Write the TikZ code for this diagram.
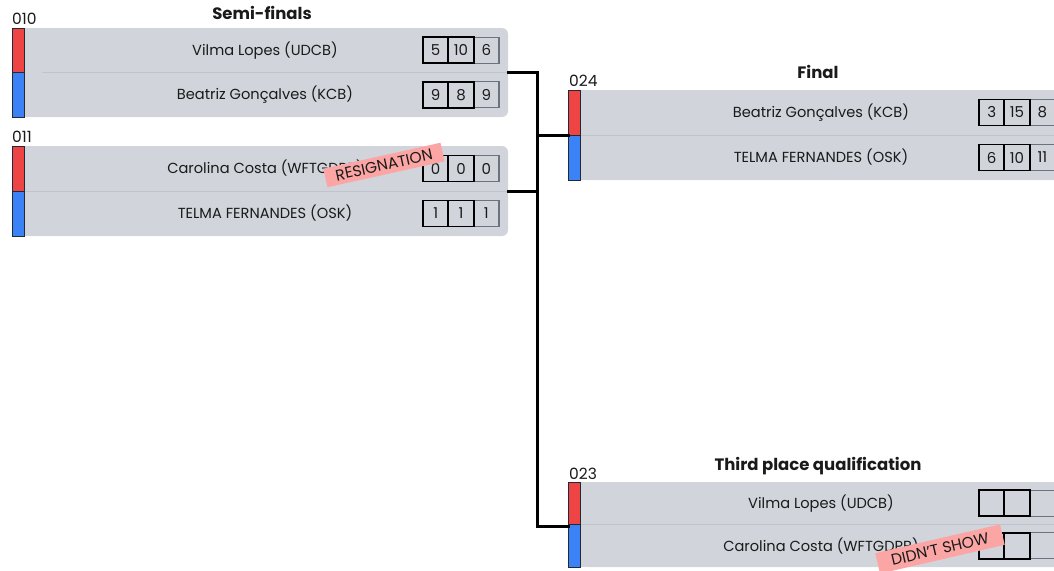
\documentclass[tikz,border=0pt]{standalone}
\usepackage{fontspec}
\setmainfont{Poppins}
\definecolor{rowbg}{HTML}{D1D5DB}
\definecolor{redc}{HTML}{EF4444}
\definecolor{bluec}{HTML}{3B82F6}
\definecolor{barline}{HTML}{1F2937}
\definecolor{divline}{HTML}{BFC3CA}
\definecolor{tagpink}{HTML}{FCA5A5}
\definecolor{txt}{HTML}{1A1A1A}
\definecolor{lastbox}{HTML}{6B7280}
\begin{document}
\begin{tikzpicture}[x=1pt,y=-1pt,
  graybox/.style={fill=rowbg, rounded corners=6pt, minimum width=484pt, inner sep=0pt, outer sep=0pt, anchor=north west},
  redbar/.style={fill=redc, draw=barline, line width=1pt, minimum width=12pt, inner sep=0pt, outer sep=0pt, anchor=north west},
  bluebar/.style={fill=bluec, draw=barline, line width=1pt, minimum width=12pt, inner sep=0pt, outer sep=0pt, anchor=north west},
  divider/.style={draw=divline, line width=0.8pt},
  pname/.style={font=\fontsize{14.6}{17}\selectfont, text=txt},
  title/.style={font=\fontsize{16.5}{19}\selectfont\bfseries, text=txt},
  mlabel/.style={font=\fontsize{15.5}{17}\selectfont, text=txt, inner sep=0pt, anchor=west},
  scorebox/.style={draw=black, line width=1.8pt, minimum width=25.3pt, minimum height=26pt, inner sep=0pt, font=\fontsize{15}{17}\selectfont, text=txt},
  lastscore/.style={scorebox, draw=lastbox, line width=1.3pt},
  tag/.style={fill=tagpink, text=txt, font=\fontsize{15.5}{17}\selectfont, inner sep=0pt, minimum height=19pt},
  conn/.style={draw=black, line width=3pt, line cap=rect}
]
\useasboundingbox (0,0) rectangle (1054,570);
\clip (0,0) rectangle (1054,570);

% ---------- titles ----------
\node[title] (tsemi) at (262,13) {Semi-finals};
\node[title] (tfinal) at (818,72) {Final};
\node[title] (tthird) at (818,466) {Third place qualification};

% ---------- match 010 ----------
\node[mlabel] (l010) at (12,19) {010};
\node[graybox, minimum height=89pt] (m010) at (24,28) {};
\fill[rowbg] (m010.north west) rectangle ([xshift=20pt]m010.south west);
\draw[divider] (42,72.5) -- (m010.east);
\node[redbar, minimum height=44.5pt] (r010) at (12,28) {};
\node[bluebar, minimum height=44.5pt] (u010) at (12,72.5) {};
\node[pname] (p010a) at (265,50.25) {Vilma Lopes (UDCB)};
\node[pname] (p010b) at (265,94.75) {Beatriz Gonçalves (KCB)};
\node[lastscore] (s010a3) at (486.33,50.25) {6};
\node[scorebox] (s010a1) at (435.67,50.25) {5};
\node[scorebox] (s010a2) at (461,50.25) {10};
\node[lastscore] (s010b3) at (486.33,94.75) {9};
\node[scorebox] (s010b1) at (435.67,94.75) {9};
\node[scorebox] (s010b2) at (461,94.75) {8};

% ---------- match 011 ----------
\node[mlabel] (l011) at (12,137) {011};
\node[graybox, minimum height=90pt] (m011) at (24,146) {};
\fill[rowbg] (m011.north west) rectangle ([xshift=20pt]m011.south west);
\draw[divider] (m011.west) -- (m011.east);
\node[redbar, minimum height=45pt] (r011) at (12,146) {};
\node[bluebar, minimum height=45pt] (u011) at (12,191) {};
\node[pname] (p011a) at (265,168.5) {Carolina Costa (WFTGDPB)};
\node[pname] (p011b) at (265,213.5) {TELMA FERNANDES (OSK)};
\node[lastscore] (s011a3) at (486.33,168.5) {0};
\node[scorebox] (s011a1) at (435.67,168.5) {0};
\node[scorebox] (s011a2) at (461,168.5) {0};
\node[lastscore] (s011b3) at (486.33,213.5) {1};
\node[scorebox] (s011b1) at (435.67,213.5) {1};
\node[scorebox] (s011b2) at (461,213.5) {1};
\node[tag, minimum width=120pt, rotate=12.5] (t011) at (384,165) {RESIGNATION};

% ---------- final 024 ----------
\node[mlabel] (l024) at (569,81) {024};
\node[graybox, minimum height=90pt] (m024) at (580,90) {};
\fill[rowbg] (m024.north west) rectangle ([xshift=20pt]m024.south west);
\draw[divider] (m024.west) -- (m024.east);
\node[redbar, minimum height=45pt] (r024) at (568,90) {};
\node[bluebar, minimum height=45pt] (u024) at (568,135) {};
\node[pname] (p024a) at (821,112.5) {Beatriz Gonçalves (KCB)};
\node[pname] (p024b) at (821,157.5) {TELMA FERNANDES (OSK)};
\node[lastscore] (s024a3) at (1042.33,112.5) {8};
\node[scorebox] (s024a1) at (991.67,112.5) {3};
\node[scorebox] (s024a2) at (1017,112.5) {15};
\node[lastscore] (s024b3) at (1042.33,157.5) {11};
\node[scorebox] (s024b1) at (991.67,157.5) {6};
\node[scorebox] (s024b2) at (1017,157.5) {10};

% ---------- third place 023 ----------
\node[mlabel] (l023) at (569,474) {023};
\node[graybox, minimum height=85pt] (m023) at (580,482) {};
\fill[rowbg] (m023.north west) rectangle ([xshift=20pt]m023.south west);
\draw[divider] (m023.west) -- (m023.east);
\node[redbar, minimum height=42.5pt] (r023) at (568,482) {};
\node[bluebar, minimum height=42.5pt] (u023) at (568,524.5) {};
\node[pname] (p023a) at (821,503.25) {Vilma Lopes (UDCB)};
\node[pname] (p023b) at (821,545.75) {Carolina Costa (WFTGDPB)};
\node[lastscore] (s023a3) at (1042.33,503.25) {};
\node[scorebox] (s023a1) at (991.67,503.25) {};
\node[scorebox] (s023a2) at (1017,503.25) {};
\node[lastscore] (s023b3) at (1042.33,545.75) {};
\node[scorebox] (s023b1) at (991.67,545.75) {};
\node[scorebox] (s023b2) at (1017,545.75) {};
\node[tag, minimum width=128pt, minimum height=21pt, rotate=13] (t023) at (940,549) {DIDN'T SHOW};

% ---------- connectors ----------
\coordinate (jtop) at (537,72.5);
\coordinate (jbot) at (537,526);
\draw[conn] (m010.east) -- (jtop) -- (jbot) -- (jbot -| r023.west);
\draw[conn] (m011.east) -- (m011.east -| jtop);
\draw[conn] (r024.south west) -- (r024.south west -| jtop);
\end{tikzpicture}
\end{document}
